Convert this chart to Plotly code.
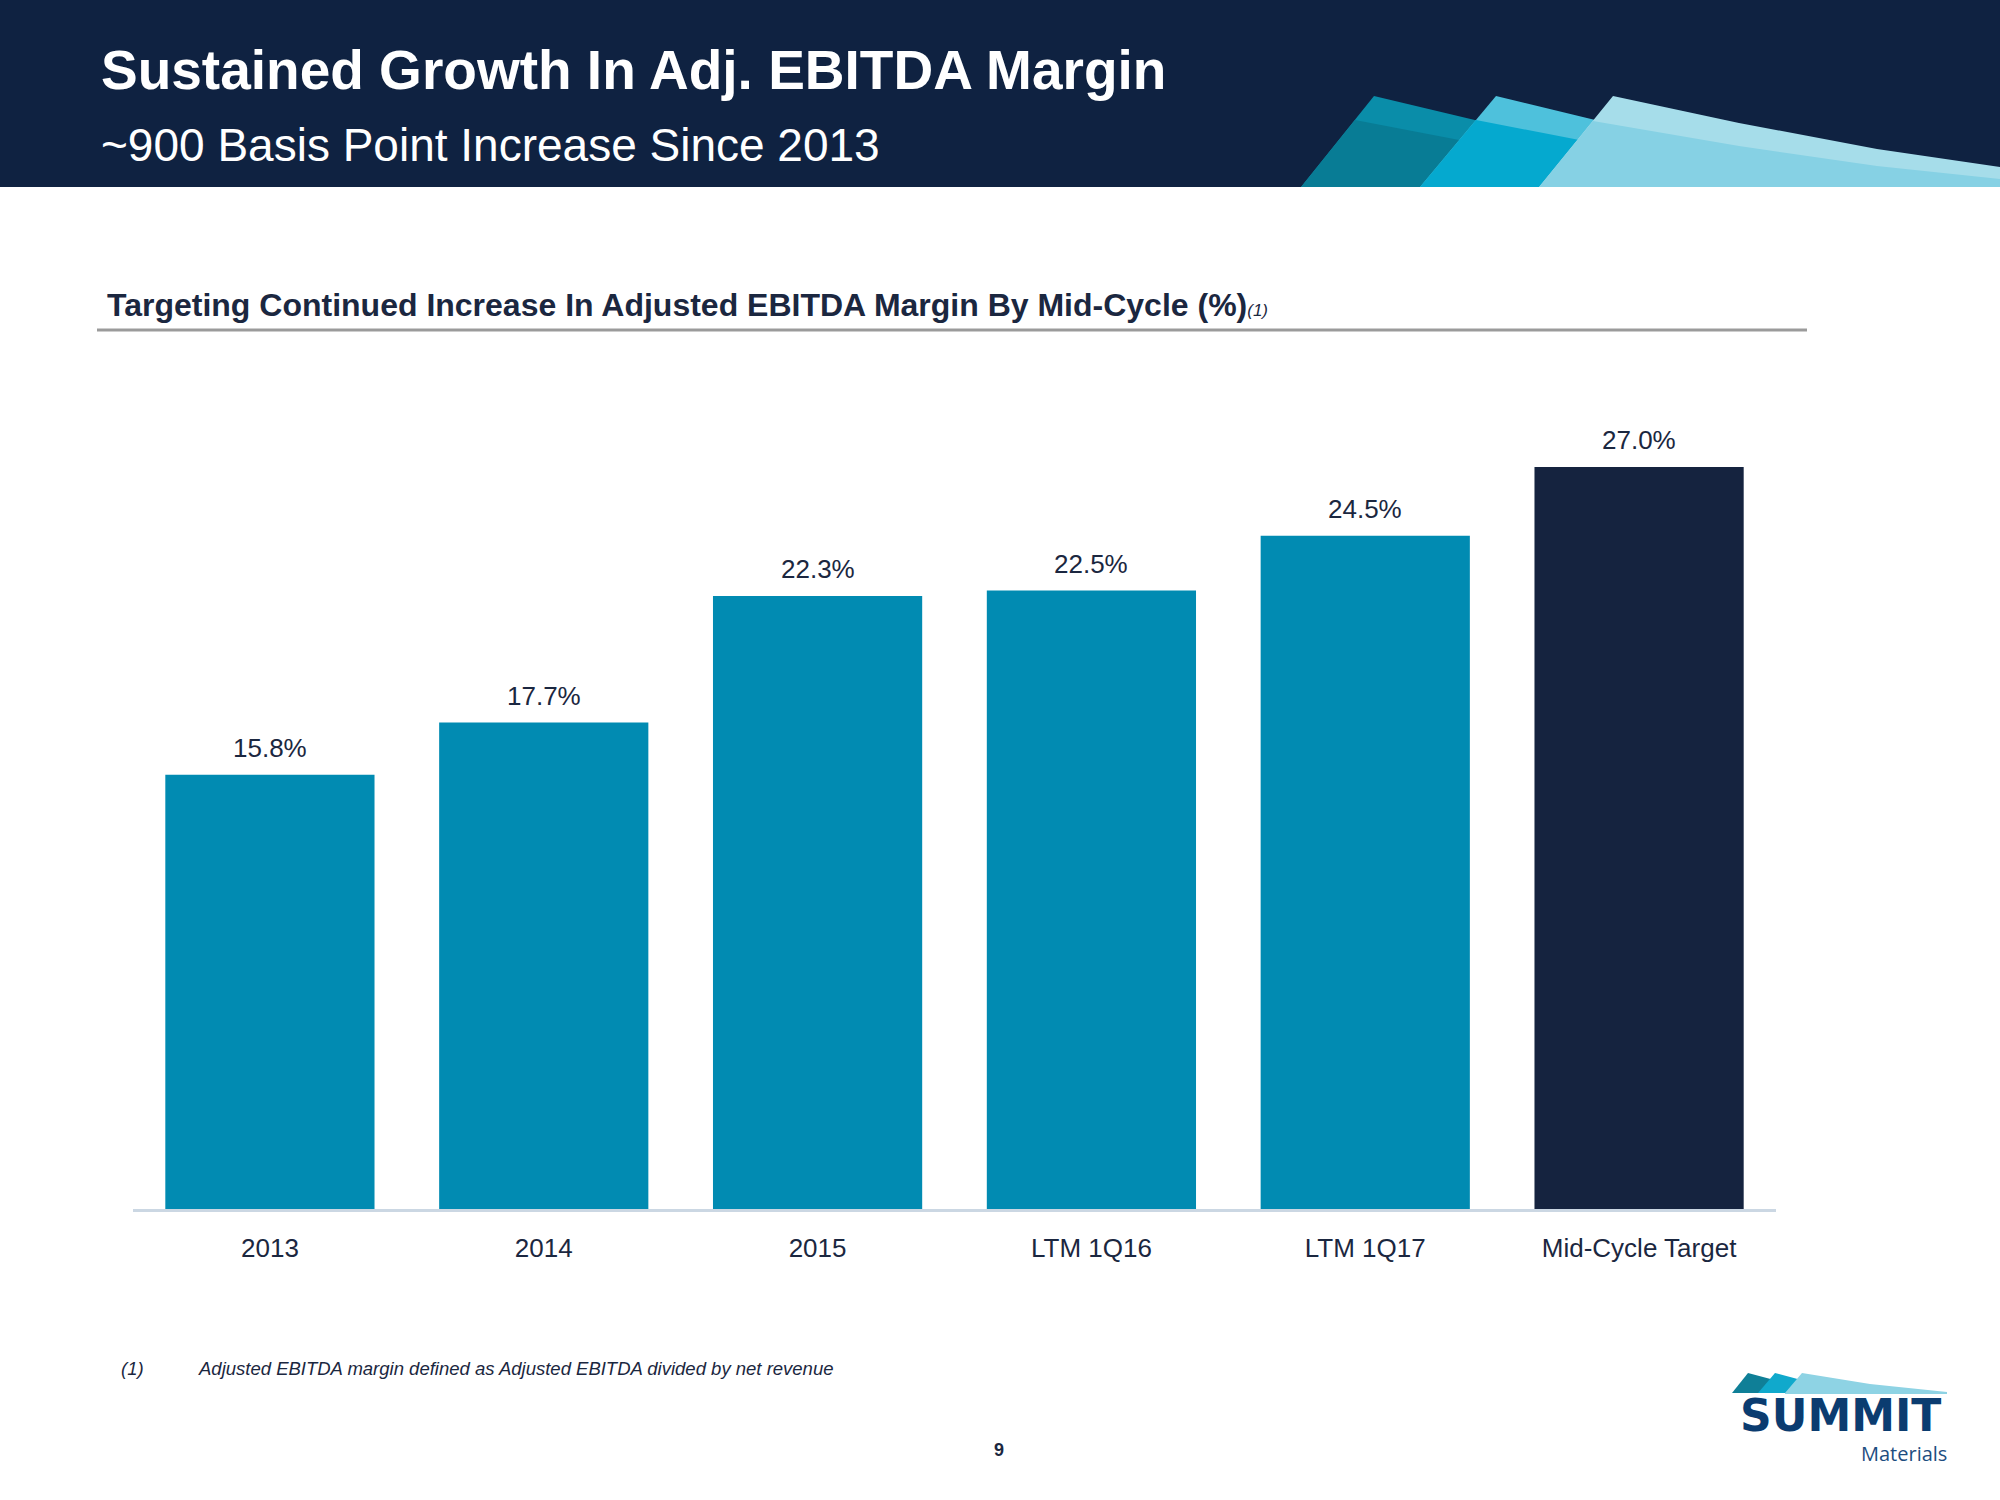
import plotly.graph_objects as go

# ---- data ----
categories = ["2013", "2014", "2015", "LTM 1Q16", "LTM 1Q17", "Mid-Cycle Target"]
margins = [15.8, 17.7, 22.3, 22.5, 24.5, 27.0]
value_labels = ["15.8%", "17.7%", "22.3%", "22.5%", "24.5%", "27.0%"]

title = "Sustained Growth In Adj. EBITDA Margin"
subtitle = "~900 Basis Point Increase Since 2013"
section_title = "Targeting Continued Increase In Adjusted EBITDA Margin By Mid-Cycle (%)"
footnote_mark = "(1)"
footnote_text = "Adjusted EBITDA margin defined as Adjusted EBITDA divided by net revenue"
page_number = "9"
logo_word = "SUMMIT"
logo_sub = "Materials"

# ---- style ----
W, H = 2000, 1500
NARROW = "Liberation Sans Narrow, Arial Narrow, Liberation Sans, Arial, sans-serif"
TEAL = "#018BB2"
NAVY_BAR = "#15233F"
HEADER = "#0F2241"
TEXT = "#1B2740"

bar_colors = [TEAL] * (len(categories) - 1) + [NAVY_BAR]


def px(x, y):
    return f"{x / W:.5f},{1 - y / H:.5f}"


def poly(points):
    return "M " + " L ".join(px(x, y) for x, y in points) + " Z"


fig = go.Figure()
fig.add_trace(go.Bar(
    x=categories, y=margins,
    marker=dict(color=bar_colors, line=dict(width=0)),
    hoverinfo="skip",
))

# value labels above bars (x given as category index on the category axis)
for i, (v, t) in enumerate(zip(margins, value_labels)):
    fig.add_annotation(x=i, y=v, xref="x", yref="y", text=t, showarrow=False, yanchor="bottom",
                       yshift=10, font=dict(family=NARROW, size=26, color=TEXT))

shapes = []
# header band
shapes.append(dict(type="rect", xref="paper", yref="paper", x0=0, x1=1,
                   y0=1 - 187 / H, y1=1, fillcolor=HEADER, line=dict(width=0), layer="below"))

deco = [
    ("#0A8DA9", [(1301, 187), (1374, 96), (1500, 126), (1500, 187)]),
    ("#087C95", [(1301, 187), (1355, 120), (1480, 144), (1480, 187)]),
    ("#4EC1DC", [(1420, 187), (1496, 96), (1620, 126), (1620, 187)]),
    ("#05A9CF", [(1420, 187), (1476, 120), (1600, 144), (1600, 187)]),
    ("#A6DDEA", [(1539, 187), (1613, 96), (1739, 123), (1877, 149), (2000, 167), (2000, 187)]),
    ("#86D1E4", [(1539, 187), (1593, 121), (1739, 146), (1877, 166), (2000, 179), (2000, 187)]),
    # logo sails
    ("#0F7F97", [(1732, 1393), (1748, 1373), (1778, 1381), (1778, 1393)]),
    ("#10A9CC", [(1758, 1393), (1775, 1373), (1805, 1381), (1805, 1393)]),
    ("#8ED3E4", [(1785, 1393), (1802, 1373), (1870, 1384), (1947, 1392), (1947, 1394), (1785, 1394)]),
]
for color, pts in deco:
    shapes.append(dict(type="path", xref="paper", yref="paper", path=poly(pts),
                       fillcolor=color, line=dict(width=0), layer="above"))

# rule under section title
shapes.append(dict(type="line", xref="paper", yref="paper",
                   x0=97 / W, x1=1807 / W, y0=1 - 330 / H, y1=1 - 330 / H,
                   line=dict(color="#9B9B9B", width=3)))

fig.update_layout(shapes=shapes)


def ann(text, x, y, size, color=TEXT, family=NARROW, xanchor="left", weight="normal", italic=False):
    fig.add_annotation(text=text, xref="paper", yref="paper", x=x / W, y=1 - y / H,
                       xanchor=xanchor, yanchor="middle", showarrow=False, borderpad=0,
                       font=dict(family=family, size=size, color=color, weight=weight,
                                 style="italic" if italic else "normal"))


ann(title, 100, 70, 55, color="white", weight="bold")
ann(subtitle, 100, 145, 46, color="white")
ann(f"<b>{section_title}</b><i><span style='font-size:17px'>{footnote_mark}</span></i>",
    106, 305, 32)
ann(footnote_mark, 120, 1368, 18.5, italic=True)
ann(footnote_text, 197, 1368, 18.5, italic=True)
ann(page_number, 999, 1450, 18, xanchor="center", weight="bold")
ann(logo_word, 1840, 1415, 44, color="#0B3C70", family="DejaVu Sans", xanchor="center", weight="bold")
ann(logo_sub, 1948, 1453, 20, color="#1D4D80", family="Open Sans", xanchor="right")

fig.update_layout(
    width=W, height=H,
    margin=dict(l=0, r=0, t=0, b=0),
    paper_bgcolor="white", plot_bgcolor="white",
    showlegend=False,
    bargap=0.236,
    xaxis=dict(type="category", domain=[133 / W, 1776 / W], range=[-0.5, len(categories) - 0.5],
               showline=True, linecolor="#CBD7E3",
               linewidth=3, ticks="outside", ticklen=14, tickcolor="rgba(0,0,0,0)",
               tickfont=dict(family=NARROW, size=26, color=TEXT), showgrid=False, fixedrange=True),
    yaxis=dict(domain=[1 - 1209 / H, 1 - 357 / H], range=[0, 31], visible=False,
               showgrid=False, zeroline=False, fixedrange=True),
)

fig.write_html("out.html", config={"displayModeBar": False},
               post_script="document.body.style.margin='0';")
